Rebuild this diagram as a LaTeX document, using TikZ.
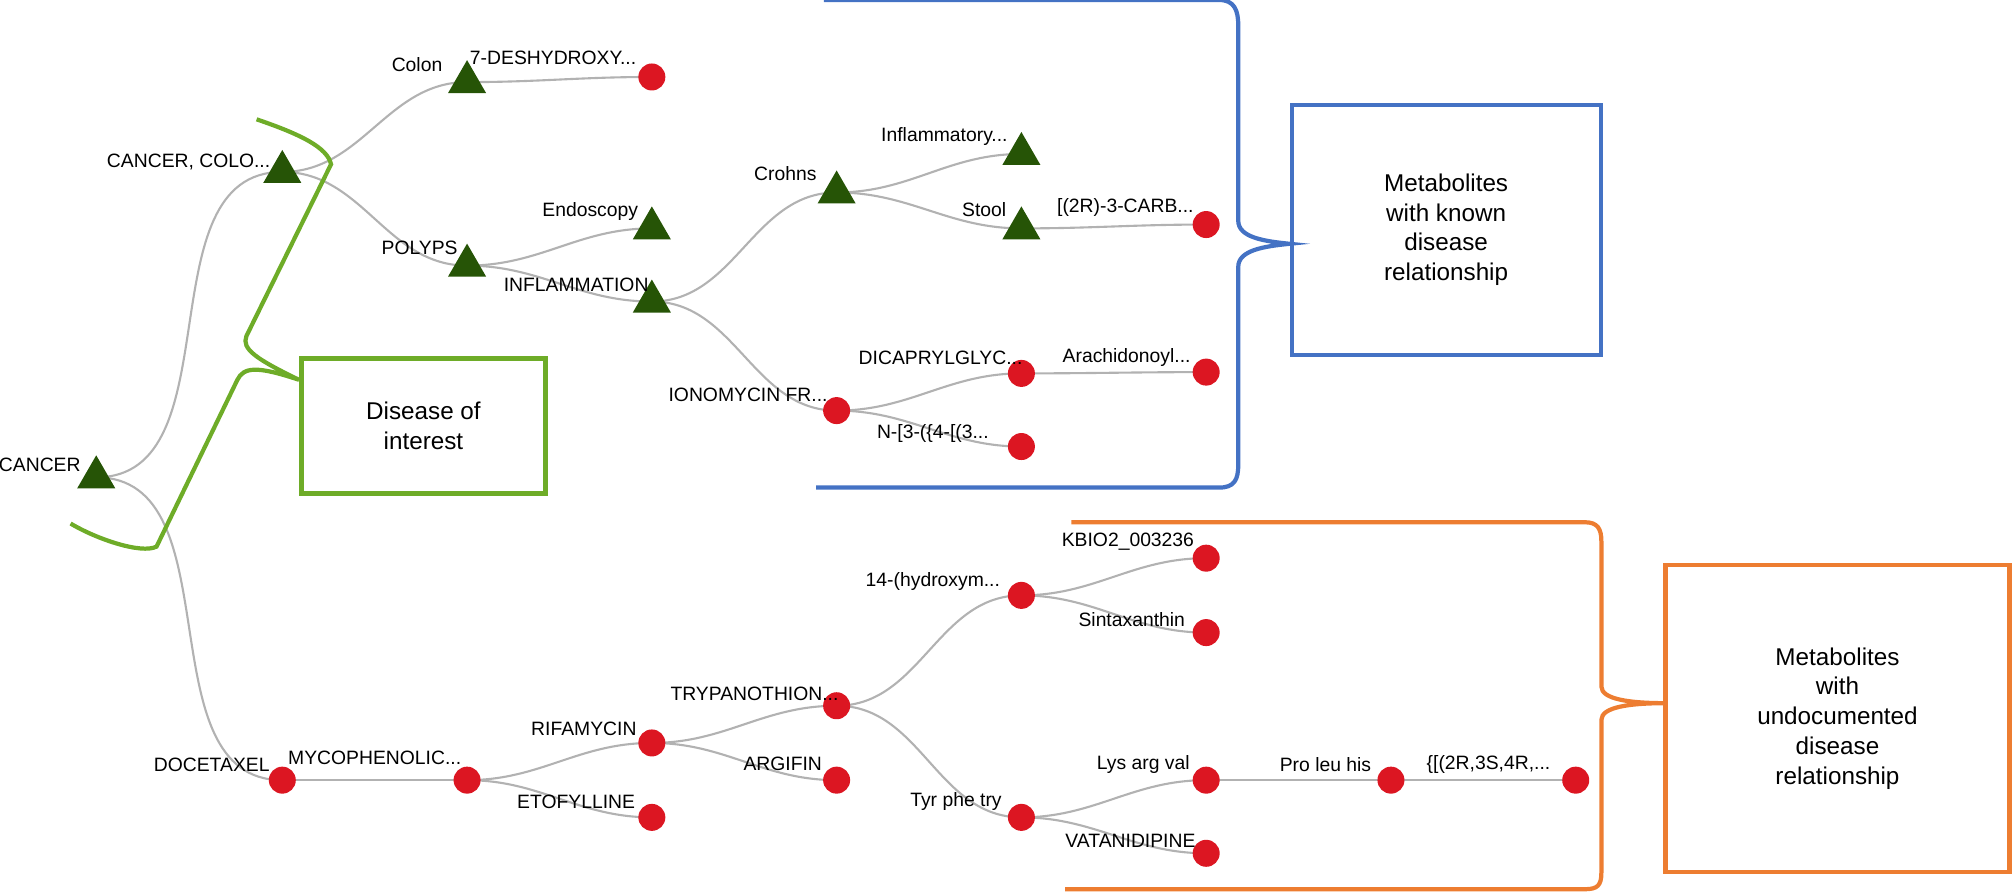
\documentclass[tikz,border=0pt]{standalone}
\usepackage{fontspec}
\setmainfont{Liberation Sans}
\usetikzlibrary{shapes.geometric,backgrounds}
\definecolor{tri}{RGB}{38,84,6}
\definecolor{dot}{RGB}{220,22,34}
\definecolor{gbr}{RGB}{110,172,40}
\definecolor{bbr}{RGB}{68,114,196}
\definecolor{obr}{RGB}{237,125,49}
\tikzset{
 tr/.style={regular polygon,regular polygon sides=3,fill=tri,inner sep=0,minimum size=0.44cm},
 ci/.style={circle,fill=dot,inner sep=0,minimum size=0.27cm},
 lb/.style={font=\fontsize{5.5}{6.5}\selectfont,inner sep=0},
 ed/.style={draw=gray!60,line width=0.6pt},
 box/.style={draw,line width=1.2pt,align=center,font=\fontsize{6.9}{8.5}\selectfont},
 br/.style={line width=1.2pt}
}
\begin{document}
\begin{tikzpicture}[x=0.01283cm,y=-0.01283cm]
\useasboundingbox (0,0) rectangle (1568,697);
\node[tr] (cancer) at (75,372) {}; \node[lb] at (31,362) {CANCER};
\node[tr] (colo) at (220,134) {}; \node[lb] at (147,126) {CANCER, COLO...};
\node[tr] (colon) at (364,64) {}; \node[lb] at (325,50) {Colon};
\node[ci] (desh) at (508,60) {}; \node[lb] at (431,45) {7-DESHYDROXY...};
\node[tr] (polyps) at (364,207) {}; \node[lb] at (327,193) {POLYPS};
\node[tr] (endo) at (508,178) {}; \node[lb] at (460,165) {Endoscopy};
\node[tr] (infl) at (508,235) {}; \node[lb] at (449,222) {INFLAMMATION};
\node[tr] (crohns) at (652,150) {}; \node[lb] at (612,135) {Crohns};
\node[tr] (inflam) at (796,120) {}; \node[lb] at (736,106) {Inflammatory...};
\node[tr] (stool) at (796,178) {}; \node[lb] at (767,163) {Stool};
\node[ci] (carb) at (940,175) {}; \node[lb] at (877,162) {[(2R)-3-CARB...};
\node[ci] (iono) at (652,320) {}; \node[lb] at (583,308) {IONOMYCIN FR...};
\node[ci] (dica) at (796,291) {}; \node[lb] at (733,279) {DICAPRYLGLYC...};
\node[ci] (arach) at (940,290) {}; \node[lb] at (878,279) {Arachidonoyl...};
\node[ci] (n3) at (796,348) {}; \node[lb] at (727,338) {N-[3-(\{4-[(3...};
\node[ci] (doce) at (220,608) {}; \node[lb] at (165,596) {DOCETAXEL};
\node[ci] (myco) at (364,608) {}; \node[lb] at (292,591) {MYCOPHENOLIC...};
\node[ci] (rifa) at (508,579) {}; \node[lb] at (455,568) {RIFAMYCIN};
\node[ci] (etof) at (508,637) {}; \node[lb] at (449,625) {ETOFYLLINE};
\node[ci] (tryp) at (652,550) {}; \node[lb] at (588,541) {TRYPANOTHION...};
\node[ci] (argi) at (652,608) {}; \node[lb] at (610,595) {ARGIFIN};
\node[ci] (hydr) at (796,464) {}; \node[lb] at (727,453) {14-(hydroxym...};
\node[ci] (kbio) at (940,435) {}; \node[lb] at (879,422) {KBIO2\_003236};
\node[ci] (sint) at (940,493) {}; \node[lb] at (882,483) {Sintaxanthin};
\node[ci] (tyr) at (796,637) {}; \node[lb] at (745,625) {Tyr phe try};
\node[ci] (lys) at (940,608) {}; \node[lb] at (891,596) {Lys arg val};
\node[ci] (vata) at (940,665) {}; \node[lb] at (881,655) {VATANIDIPINE};
\node[ci] (pro) at (1084,608) {}; \node[lb] at (1033,596) {Pro leu his};
\node[ci] (last) at (1228,608) {}; \node[lb] at (1160,596) {\{[(2R,3S,4R,...};
\begin{scope}[on background layer]
\foreach \a/\b in {cancer/colo,cancer/doce,colo/colon,colon/desh,colo/polyps,polyps/endo,polyps/infl,infl/crohns,crohns/inflam,crohns/stool,stool/carb,infl/iono,iono/dica,dica/arach,iono/n3,doce/myco,myco/rifa,myco/etof,rifa/tryp,rifa/argi,tryp/hydr,hydr/kbio,hydr/sint,tryp/tyr,tyr/lys,tyr/vata,lys/pro,pro/last}
 \draw[ed] (\a.center) to[out=0,in=180] (\b.center);
\end{scope}
\node[box,draw=gbr,minimum width=2.44cm,minimum height=1.35cm] (d) at (330,332) {Disease of\\interest};
\node[box,draw=bbr,minimum width=3.09cm,minimum height=2.5cm] (k) at (1127,179) {Metabolites\\with known\\disease\\relationship};
\node[box,draw=obr,minimum width=3.44cm,minimum height=3.07cm] (u) at (1432,560) {Metabolites\\with\\undocumented\\disease\\relationship};
\draw[br,gbr] (200,93) .. controls (235,105) and (255,115) .. (258,128) -- (192,262) .. controls (188,272) and (200,280) .. (233,296)
 (233,296) .. controls (200,285) and (190,286) .. (185,296) -- (122,426) .. controls (110,432) and (75,420) .. (55,408);
\draw[br,bbr] (642,0) -- (950,0) .. controls (962,0) and (965,8) .. (965,20) -- (965,172) .. controls (965,185) and (985,188) .. (1005,190)
 .. controls (985,192) and (965,195) .. (965,208) -- (965,362) .. controls (965,374) and (962,380) .. (950,380) -- (636,380);
\draw[br,obr] (835,407) -- (1235,407) .. controls (1245,407) and (1248,412) .. (1248,422) -- (1248,535) .. controls (1248,545) and (1270,548) .. (1298,548)
 .. controls (1270,548) and (1248,551) .. (1248,561) -- (1248,680) .. controls (1248,690) and (1245,693) .. (1235,693) -- (830,693);
\end{tikzpicture}
\end{document}
